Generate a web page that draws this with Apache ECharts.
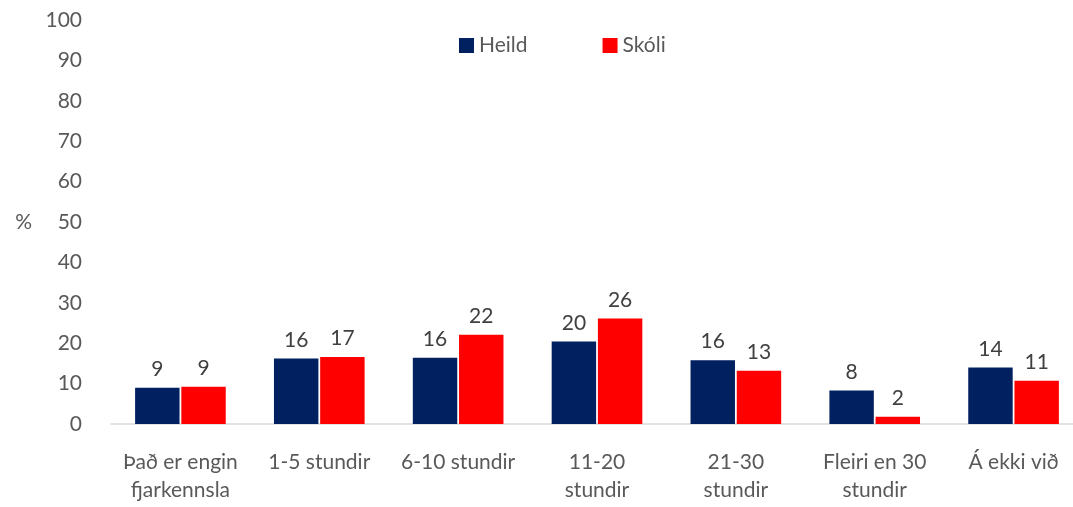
<!DOCTYPE html>
<html>
<head>
<meta charset="utf-8">
<script src="https://cdn.jsdelivr.net/npm/echarts@6/dist/echarts.min.js"></script>
<style>
  html, body { margin: 0; padding: 0; background: #fff; overflow: hidden; }
  /* the original picture is cut off on the right, so the chart is a bit wider than the window */
  #chart { width: 1083px; height: 507px; }
</style>
</head>
<body>
<div id="chart"></div>
<script>
// flokkar og gildi
var categories = ['Það er engin\nfjarkennsla', '1-5 stundir', '6-10 stundir', '11-20\nstundir', '21-30\nstundir', 'Fleiri en 30\nstundir', 'Á ekki við'];
var heild = [9.0, 16.2, 16.4, 20.4, 15.8, 8.3, 14.0];
var skoli = [9.2, 16.6, 22.1, 26.1, 13.2, 1.8, 10.7];
var seriesNames = ['Heild', 'Skóli'];

var chart = echarts.init(document.getElementById('chart'));
var font = 'Lato, "Open Sans", sans-serif';

function labelOpt() {
    return {
        show: true,
        position: 'top',
        distance: 8,
        color: '#404040',
        fontSize: 21,
        fontFamily: font,
        formatter: function (p) { return Math.round(p.value); }
    };
}

var option = {
    animation: false,
    legend: {
        top: 30,
        left: 454,
        itemWidth: 15,
        itemHeight: 15,
        itemGap: 75,
        icon: 'rect',
        textStyle: { color: '#595959', fontSize: 21, fontFamily: font },
        data: seriesNames
    },
    grid: {
        left: 111,
        right: 0,
        top: 20,
        bottom: 83
    },
    xAxis: {
        type: 'category',
        data: categories,
        axisLine: { lineStyle: { color: '#d9d9d9', width: 1.5 } },
        axisTick: { show: false },
        axisLabel: {
            color: '#595959',
            fontSize: 21,
            fontFamily: font,
            margin: 24,
            lineHeight: 28,
            interval: 0
        }
    },
    yAxis: {
        type: 'value',
        min: 0,
        max: 100,
        interval: 10,
        name: '%',
        nameLocation: 'middle',
        nameRotate: 0,
        nameGap: 79,
        nameTextStyle: { color: '#595959', fontSize: 21, fontFamily: font },
        splitLine: { show: false },
        axisLine: { show: false },
        axisTick: { show: false },
        axisLabel: { color: '#595959', fontSize: 21, fontFamily: font, margin: 29 }
    },
    series: [
        {
            name: seriesNames[0],
            type: 'bar',
            data: heild,
            barWidth: '32%',
            barGap: '4%',
            itemStyle: { color: '#002060' },
            label: labelOpt()
        },
        {
            name: seriesNames[1],
            type: 'bar',
            data: skoli,
            barWidth: '32%',
            itemStyle: { color: '#ff0000' },
            label: labelOpt()
        }
    ]
};
chart.setOption(option);
</script>
</body>
</html>
